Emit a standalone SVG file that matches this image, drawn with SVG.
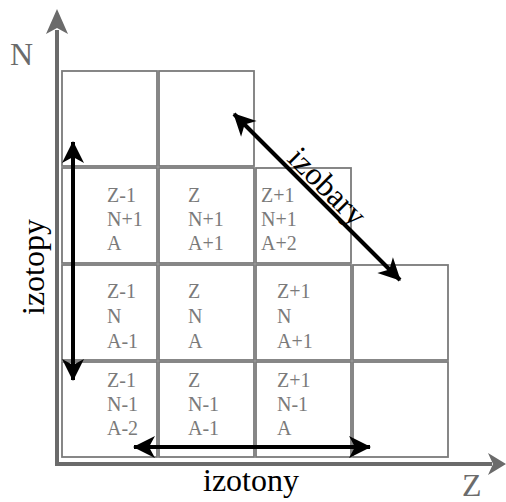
<svg xmlns="http://www.w3.org/2000/svg" width="506" height="502" viewBox="0 0 506 502">
<style>
.cell{fill:none;stroke:#7a7a7a;stroke-width:1.8}
.ct{font-family:"Liberation Serif","Times New Roman","DejaVu Serif",serif;font-size:20px;fill:#7a7a7a}
.ax{stroke:#6b6b6b;stroke-width:4;fill:none}
.axh{fill:#6b6b6b}
.axl{font-family:"Liberation Serif","Times New Roman","DejaVu Serif",serif;font-size:32px;fill:#6b6b6b}
.lbl{font-family:"Liberation Serif","Times New Roman","DejaVu Serif",serif;font-size:32px;fill:#000}
.arr{stroke:#000;stroke-width:4;fill:none;marker-start:url(#ah);marker-end:url(#ah)}
</style>
<defs>
<marker id="ah" markerUnits="userSpaceOnUse" viewBox="-22 -12 24 24" refX="0" refY="0" markerWidth="24" markerHeight="24" orient="auto-start-reverse">
<path d="M1,0 L-21,-11 L-15,0 L-21,11 Z" fill="#000"/>
</marker>
</defs>
<rect width="506" height="502" fill="#fff"/>
<g id="axes">
<line class="ax" x1="57" y1="30" x2="57" y2="466"/>
<path class="axh" d="M57,9 L46,34 L57,28 L68,34 Z"/>
<line class="ax" x1="55" y1="464" x2="492" y2="464"/>
<path class="axh" d="M506,464 L488,453 L493,464 L488,475 Z"/>
<text class="axl" x="10" y="65">N</text>
<text class="axl" x="462" y="496">Z</text>
</g>
<g id="cell-r1c1"><rect class="cell" x="62" y="71" width="95" height="95"/></g>
<g id="cell-r1c2"><rect class="cell" x="159" y="71" width="95" height="95"/></g>
<g id="cell-r2c1"><rect class="cell" x="62" y="168" width="95" height="95"/>
<text class="ct" x="107" y="202">Z-1</text><text class="ct" x="107" y="226">N+1</text><text class="ct" x="107" y="250">A</text></g>
<g id="cell-r2c2"><rect class="cell" x="159" y="168" width="95" height="95"/>
<text class="ct" x="188" y="202">Z</text><text class="ct" x="188" y="226">N+1</text><text class="ct" x="188" y="250">A+1</text></g>
<g id="cell-r2c3"><rect class="cell" x="256" y="168" width="95" height="95"/>
<text class="ct" x="261" y="202">Z+1</text><text class="ct" x="261" y="226">N+1</text><text class="ct" x="261" y="250">A+2</text></g>
<g id="cell-r3c1"><rect class="cell" x="62" y="265" width="95" height="95"/>
<text class="ct" x="107" y="298">Z-1</text><text class="ct" x="107" y="323">N</text><text class="ct" x="107" y="348">A-1</text></g>
<g id="cell-r3c2"><rect class="cell" x="159" y="265" width="95" height="95"/>
<text class="ct" x="188" y="298">Z</text><text class="ct" x="188" y="323">N</text><text class="ct" x="188" y="348">A</text></g>
<g id="cell-r3c3"><rect class="cell" x="256" y="265" width="95" height="95"/>
<text class="ct" x="277" y="298">Z+1</text><text class="ct" x="277" y="323">N</text><text class="ct" x="277" y="348">A+1</text></g>
<g id="cell-r3c4"><rect class="cell" x="353" y="265" width="95" height="95"/></g>
<g id="cell-r4c1"><rect class="cell" x="62" y="362" width="95" height="95"/>
<text class="ct" x="107" y="387">Z-1</text><text class="ct" x="107" y="411">N-1</text><text class="ct" x="107" y="435">A-2</text></g>
<g id="cell-r4c2"><rect class="cell" x="159" y="362" width="95" height="95"/>
<text class="ct" x="188" y="387">Z</text><text class="ct" x="188" y="411">N-1</text><text class="ct" x="188" y="435">A-1</text></g>
<g id="cell-r4c3"><rect class="cell" x="256" y="362" width="95" height="95"/>
<text class="ct" x="277" y="387">Z+1</text><text class="ct" x="277" y="411">N-1</text><text class="ct" x="277" y="435">A</text></g>
<g id="cell-r4c4"><rect class="cell" x="353" y="362" width="95" height="95"/></g>
<g id="connectors">
<line class="arr" x1="73" y1="142" x2="73" y2="380"/>
<line class="arr" x1="134" y1="447" x2="370" y2="447"/>
<line class="arr" x1="234" y1="114" x2="400" y2="280"/>
</g>
<g id="labels">
<text class="lbl" text-anchor="middle" transform="translate(44,267) rotate(-90)">izotopy</text>
<text class="lbl" text-anchor="middle" x="251" y="491">izotony</text>
<text class="lbl" text-anchor="middle" transform="translate(320,194) rotate(45)">izobary</text>
</g>
</svg>
